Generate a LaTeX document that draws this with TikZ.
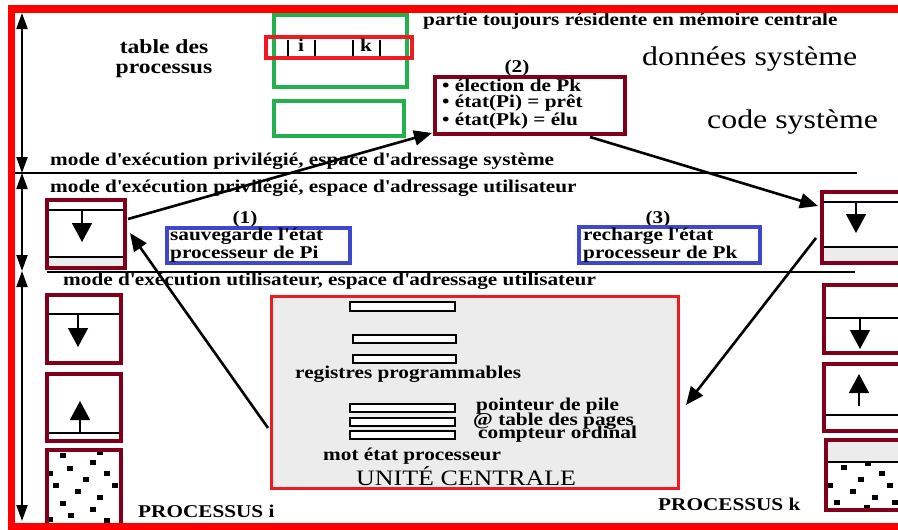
\documentclass[tikz,border=0pt]{standalone}
\usepackage{fontspec}
\setmainfont[FakeStretch=1.18]{Liberation Serif}
\usetikzlibrary{arrows.meta}
\definecolor{framered}{RGB}{255,0,0}
\definecolor{cpured}{RGB}{237,28,36}
\definecolor{maroon}{RGB}{128,0,28}
\definecolor{tgreen}{RGB}{34,177,76}
\definecolor{tblue}{RGB}{63,72,204}
\definecolor{lgray}{RGB}{236,236,236}
\tikzset{
  lbl/.style={inner sep=0pt, anchor=base west, font=\fontsize{18}{16}\selectfont\bfseries},
  lblc/.style={inner sep=0pt, anchor=base, font=\fontsize{18}{16}\selectfont\bfseries},
  big/.style={inner sep=0pt, anchor=base west, font=\fontsize{27}{30}\selectfont},
  memframe/.style={draw=maroon, line width=4pt},
  greenbox/.style={draw=tgreen, line width=3.5pt},
  bluebox/.style={draw=tblue, line width=3.5pt},
  reg/.style={draw=black, fill=white, line width=1.4pt},
  flow/.style={line width=2.6pt, -{Triangle[length=18pt,width=15pt]}},
  stackarrow/.style={line width=1.5pt, -{Triangle[length=19pt,width=20pt]}},
  span/.style={line width=2pt, {Triangle[length=16pt,width=11pt]}-{Triangle[length=16pt,width=11pt]}},
  sep/.style={line width=1.5pt},
  dot/.style={fill=black},
}
\newcommand{\dotsq}[2]{\fill[dot] (#1-3,#2-2.5) rectangle (#1+3,#2+2.5);}
\newcommand{\q}{\textquotesingle}
\begin{document}
\begin{tikzpicture}[x=1pt,y=-1pt]
\useasboundingbox (0,0) rectangle (898,530);
\begin{scope}
\clip (0,0) rectangle (898,530);

% ---- resident system part: process table and system code ----
\draw[greenbox] (274,15) rectangle (407,87);
\draw[greenbox] (274,101) rectangle (404,136);
\draw[draw=cpured, line width=3.5pt] (266,37) rectangle (412,58);
\foreach \xx in {288,315,353,380} {\draw[line width=1.2pt] (\xx,40) -- (\xx,56);}
\node[lblc] (ti) at (301,52) {i};
\node[lblc] (tk) at (366,52) {k};
\node[lblc, font=\fontsize{20}{20}\selectfont\bfseries, align=center] (tdp) at (164,73) {table des\\processus};

\node[lbl] (resid) at (423,25) {partie toujours résidente en mémoire centrale};
\node[big] (donnees) at (642,65) {données système};
\node[big] (code) at (707,128) {code système};

\node[lblc] (n2) at (517,72) {(2)};
\draw[memframe] (435,77) rectangle (625,134);
\node[lbl, align=left] (elect) at (442,125) {• élection de Pk\\• état(Pi) = prêt\\• état(Pk) = élu};

% ---- separators and level labels ----
\draw[sep] (15,173) -- (857,173);
\draw[sep] (47,272) -- (855,272);
\node[lbl] (m1) at (50,165) {mode d\q exécution privilégié, espace d\q adressage système};
\node[lbl] (m2) at (50,192) {mode d\q exécution privilégié, espace d\q adressage utilisateur};
\node[lbl] (m3) at (63,285) {mode d\q exécution utilisateur, espace d\q adressage utilisateur};

\coordinate (s0) at (22,13);
\coordinate (s1) at (22,173);
\coordinate (s2) at (22,271);
\coordinate (s3) at (22,521);
\draw[span] (s0) -- (s1);
\draw[span] (s1) -- (s2);
\draw[span] (s2) -- (s3);

% ---- steps (1) and (3) ----
\node[lblc] (n1) at (245,223) {(1)};
\draw[bluebox] (167,228) rectangle (350,263);
\node[lbl, align=left] (sauv) at (170,258) {sauvegarde l\q état\\processeur de Pi};
\node[lblc] (n3) at (658,223) {(3)};
\draw[bluebox] (579,227) rectangle (760,263);
\node[lbl, align=left] (rech) at (583,258) {recharge l\q état\\processeur de Pk};

% ---- process i : kernel stack ----
\fill[lgray] (47,257) rectangle (125,268);
\draw[line width=1.2pt] (47,210) -- (125,210);
\draw[line width=1.2pt] (47,257) -- (125,257);
\draw[memframe] (47,200) rectangle (125,268);
\coordinate (pia) at (82,210);
\coordinate (pib) at (82,242);
\draw[stackarrow] (pia) -- (pib);

% ---- process i : user stack, heap, data ----
\draw[line width=1.2pt] (47,314) -- (121,314);
\draw[memframe] (47,295) rectangle (121,363);
\coordinate (pic) at (78,314);
\coordinate (pid) at (78,347);
\draw[stackarrow] (pic) -- (pid);

\draw[line width=1.2pt] (47,433) -- (121,433);
\draw[memframe] (47,374) rectangle (121,441);
\coordinate (pie) at (80,433);
\coordinate (pif) at (80,401);
\draw[stackarrow] (pie) -- (pif);

\begin{scope}
\clip (49,452) rectangle (119,522);
\foreach \px/\py in {63/455,100/452,93/462,70/468,50/473,107/473,86/479,56/485,115/485,78/491,100/497,63/503,93/509,71/515,50/519,107/520}
  {\dotsq{\px}{\py}}
\end{scope}
\draw[memframe] (47,450) rectangle (121,526);
\node[lbl] (pi) at (138,517) {PROCESSUS i};

% ---- process k ----
\fill[lgray] (822,247) rectangle (900,263);
\draw[line width=1.2pt] (822,202) -- (900,202);
\draw[line width=1.2pt] (822,247) -- (900,247);
\draw[memframe] (822,192) rectangle (900,263);
\coordinate (pka) at (856,202);
\coordinate (pkb) at (856,233);
\draw[stackarrow] (pka) -- (pkb);

\draw[line width=1.2pt] (824,318) -- (900,318);
\draw[memframe] (824,285) rectangle (900,353);
\coordinate (pkc) at (860,318);
\coordinate (pkd) at (860,349);
\draw[stackarrow] (pkc) -- (pkd);

\draw[line width=1.2pt] (824,415) -- (900,415);
\draw[memframe] (824,364) rectangle (900,431);
\coordinate (pke) at (859,406);
\coordinate (pkf) at (859,374);
\draw[stackarrow] (pke) -- (pkf);

\fill[lgray] (826,440) rectangle (900,462);
\begin{scope}
\clip (828,462) rectangle (898,508);
\foreach \px/\py in {844/467,868/463,882/473,861/479,830/485,890/485,853/491,875/497,837/502,867/507,895/502}
  {\dotsq{\px}{\py}}
\end{scope}
\draw[line width=1.2pt] (826,462) -- (900,462);
\draw[memframe] (826,440) rectangle (900,510);
\node[lbl] (pk) at (658,510) {PROCESSUS k};

% ---- central unit ----
\draw[draw=cpured, fill=lgray, line width=3.5pt] (271.5,296.5) rectangle (678.5,488.5);
\draw[reg] (350,302) rectangle (455,311);
\draw[reg] (353,335) rectangle (456,343);
\draw[reg] (353,355) rectangle (456,363);
\draw[reg] (350,404) rectangle (455,412);
\draw[reg] (350,418) rectangle (455,426);
\draw[reg] (350,431) rectangle (455,439);
\node[lbl] (regp) at (295,378) {registres programmables};
\node[lbl] (sp) at (476,410) {pointeur de pile};
\node[lbl] (tp) at (473,425) {@ table des pages};
\node[lbl] (co) at (478,438) {compteur ordinal};
\node[lbl] (mot) at (323,460) {mot état processeur};
\node[inner sep=0pt, anchor=base west, font=\fontsize{22}{22}\selectfont] (uc) at (356,485) {UNITÉ CENTRALE};

% ---- context switch path ----
\coordinate (a1s) at (128,219);
\coordinate (a1e) at (432,133);
\coordinate (a2s) at (590,137);
\coordinate (a2e) at (818,206);
\coordinate (a3s) at (816,238);
\coordinate (a3e) at (686,405);
\coordinate (a4s) at (268,428);
\coordinate (a4e) at (130,233);
\draw[flow] (a1s) -- (a1e);
\draw[flow] (a2s) -- (a2e);
\draw[flow] (a3s) -- (a3e);
\draw[flow] (a4s) -- (a4e);

% ---- outer frame ----
\fill[framered] (8,5) rectangle (898,13);
\fill[framered] (8,5) rectangle (15,530);
\fill[framered] (8,523) rectangle (898,530);
\end{scope}
\end{tikzpicture}
\end{document}
